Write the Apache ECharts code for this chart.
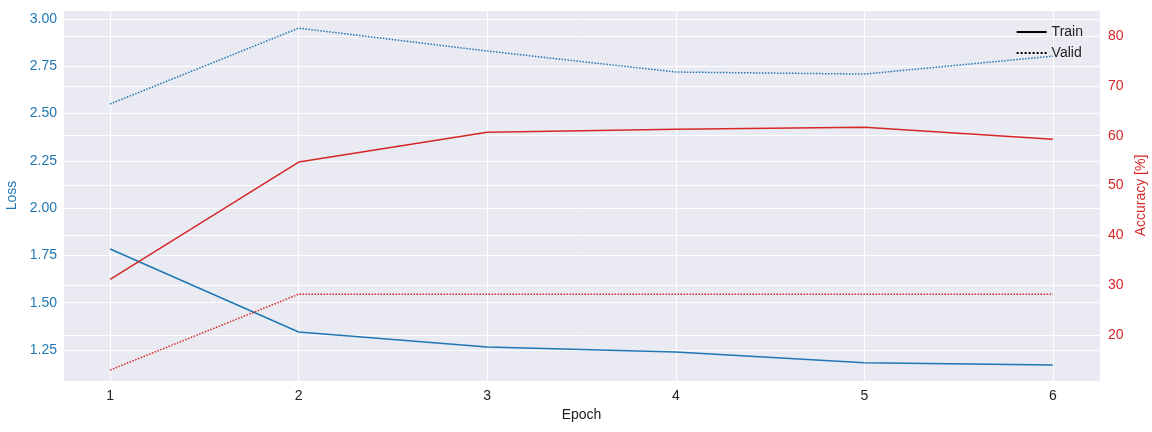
<!DOCTYPE html>
<html><head><meta charset="utf-8">
<script src="https://cdn.jsdelivr.net/npm/echarts@6/dist/echarts.min.js"></script>
<style>html,body{margin:0;padding:0;background:#fff}#c{width:1152px;height:432px}</style>
</head><body><div id="c"></div>
<script>
const epochs = [1, 2, 3, 4, 5, 6];
const trainLoss = [1.784, 1.345, 1.266, 1.240, 1.182, 1.171];
const validLoss = [2.551, 2.952, 2.831, 2.720, 2.709, 2.804];
const trainAcc = [31.2, 54.7, 60.7, 61.3, 61.7, 59.3];
const validAcc = [13.0, 28.2, 28.2, 28.2, 28.2, 28.2];

const pts = arr => epochs.map((e, i) => [e, arr[i]]);
const F = 'Liberation Sans';
const blue = '#1f77b4', red = '#d62728';
const chart = echarts.init(document.getElementById('c'));
const line = (name, data, color, type, yi, w) => ({
  name, type: 'line', data: pts(data), yAxisIndex: yi, symbol: 'none', silent: true,
  lineStyle: { color, width: w || 1.5, type }, itemStyle: { color }, z: 3
});
chart.setOption({
  animation: false,
  backgroundColor: '#fff',
  textStyle: { fontFamily: F },
  grid: { left: 63, right: 52, top: 10, bottom: 51, show: true, backgroundColor: '#eaeaf2', borderWidth: 0, containLabel: false, outerBoundsMode: 'none' },
  legend: {
    data: ['Train', 'Valid'], orient: 'vertical', right: 64, top: 20, itemGap: 7,
    itemWidth: 30, itemHeight: 10, itemStyle: { opacity: 0 },
    textStyle: { fontFamily: F, fontSize: 14, color: '#222' }
  },
  xAxis: {
    type: 'value', min: 0.75, max: 6.25, minInterval: 1, maxInterval: 1,
    name: 'Epoch', nameLocation: 'middle', nameGap: 25, nameTextStyle: { fontSize: 14, color: '#222' },
    axisLine: { show: false }, axisTick: { show: false },
    axisLabel: { showMinLabel: false, showMaxLabel: false, fontSize: 14, color: '#222', margin: 8 },
    splitLine: { show: true, lineStyle: { color: '#fff', width: 1 } }
  },
  yAxis: [{
    type: 'value', min: 1.086, max: 3.048, minInterval: 0.25, maxInterval: 0.25, position: 'left',
    name: 'Loss', nameLocation: 'middle', nameGap: 44, nameTextStyle: { fontSize: 14, color: blue },
    axisLine: { show: false }, axisTick: { show: false },
    axisLabel: { showMinLabel: false, showMaxLabel: false, fontSize: 14, color: blue, margin: 6, formatter: v => v.toFixed(2) },
    splitLine: { show: true, lineStyle: { color: '#fff', width: 1 } }
  }, {
    type: 'value', min: 10.8, max: 85.2, minInterval: 10, maxInterval: 10, position: 'right',
    name: 'Accuracy [%]', nameLocation: 'middle', nameGap: 32, nameRotate: 90, nameTextStyle: { fontSize: 14, color: red },
    axisLine: { show: false }, axisTick: { show: false },
    axisLabel: { showMinLabel: false, showMaxLabel: false, fontSize: 14, color: red, margin: 8 },
    splitLine: { show: true, lineStyle: { color: '#fff', width: 1 } }
  }],
  series: [
    line('Train', [], '#000', 'solid', 0, 1),
    line('Valid', [], '#000', 'dotted', 0, 1),
    line('tl', trainLoss, blue, 'solid', 0),
    line('vl', validLoss, blue, 'dotted', 0),
    line('ta', trainAcc, red, 'solid', 1),
    line('va', validAcc, red, 'dotted', 1)
  ]
});
</script></body></html>
